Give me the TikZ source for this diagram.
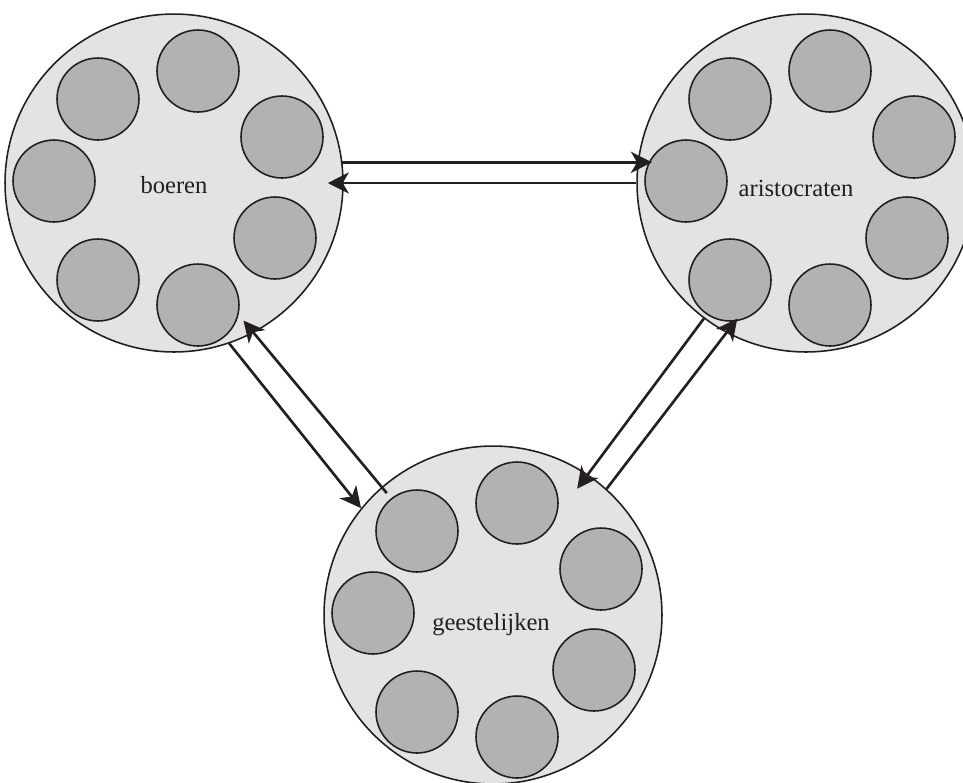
\documentclass[tikz,border=0pt]{standalone}
\usepackage{fontspec}
\setmainfont{Liberation Serif}
\usetikzlibrary{arrows.meta}
\definecolor{ringfill}{HTML}{E3E3E3}
\definecolor{seatfill}{HTML}{B2B2B2}
\definecolor{inkline}{HTML}{231F20}

\begin{document}
\begin{tikzpicture}[
    x=0.02cm, y=-0.02cm,
% the styles of the scheme
    estate/.style={
        circle,
        draw=inkline,
        fill=ringfill,
        line width=0.9pt,
        minimum size=6.76cm,
        inner sep=0pt
    },
    tag/.style={
        text=inkline,
        font=\fontsize{14}{16}\selectfont
    },
    member/.style={
        circle,
        draw=inkline,
        fill=seatfill,
        line width=0.9pt,
        minimum size=1.64cm,
        inner sep=0pt
    },
    link/.style={
        draw=inkline,
        line width=1.5pt,
        -{Stealth[length=12pt,width=12pt,inset=3.5pt]}
    }
]
\useasboundingbox (0,0) rectangle (963,782);

% the three estates + names
\node[estate, label={[tag, yshift=-0.04cm]center:boeren}] (boeren) at (174,183) {};
\node[estate, label={[tag, xshift=-0.2cm, yshift=-0.1cm]center:aristocraten}] (aristo) at (806,183) {};
\node[estate, label={[tag, xshift=-0.04cm, yshift=-0.2cm]center:geestelijken}] (geest) at (493,615) {};

% members of each estate
\foreach \g in {boeren,aristo,geest}
  \foreach \i/\dx/\dy in {1/24/-112, 2/-76/-84, 3/-120/-2, 4/-76/97, 5/24/122, 6/101/55, 7/108/-46}
    \node[member] (\g\i) at ([shift={(\dx,\dy)}]\g.center) {};

% links
\draw[link, shorten >=-0.29cm] (boeren.7) -- (aristo.173);
\draw[link, shorten >=-0.32cm] (aristo.180.7) -- (boeren.-0.7);
\draw[link] (boeren.-71) -- (geest.141.7);
\draw[link, shorten <=-0.16cm, shorten >=-0.32cm] (geest.131.3) -- (boeren.-62.3);
\draw[link, shorten >=-0.36cm] (aristo.233.1) -- (geest.56.7);
\draw[link, shorten >=-0.36cm] (geest.48.2) -- (aristo.242.8);

\end{tikzpicture}
\end{document}
